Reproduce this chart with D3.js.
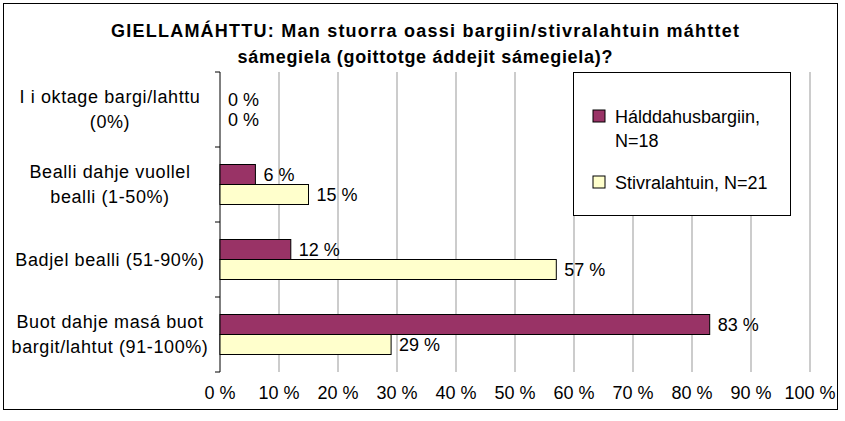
<!DOCTYPE html>
<html>
<head>
<script src="https://d3js.org/d3.v7.min.js"></script>
<style>body{margin:0;background:#fff}</style>
</head>
<body>
<div id="chart"></div>
<script>
var categories = [["I i oktage bargi/lahttu", "(0%)"], ["Bealli dahje vuollel", "bealli (1-50%)"], ["Badjel bealli (51-90%)"], ["Buot dahje masá buot", "bargit/lahtut (91-100%)"]];
var seriesNames = ["Hálddahusbargiin, N=18", "Stivralahtuin, N=21"];
var halddahus = [0, 6, 12, 83];
var stivra = [0, 15, 57, 29];
var ticks = [0, 10, 20, 30, 40, 50, 60, 70, 80, 90, 100];
var colors = ["#993366", "#FFFFCC"];

var W = 845, H = 421;
var svg = d3.select("#chart").append("svg").attr("width", W).attr("height", H)
    .style("font-family", "Liberation Sans, Arial, sans-serif");
svg.append("rect").attr("x", 3.5).attr("y", 3.5).attr("width", 834).attr("height", 406)
    .attr("fill", "#fff").attr("stroke", "#000");

// title
svg.append("text").attr("x", 425).attr("y", 37).attr("text-anchor", "middle").attr("textLength", 628)
    .attr("font-weight", "bold").attr("font-size", 18).text("GIELLAMÁHTTU: Man stuorra oassi bargiin/stivralahtuin máhttet");
svg.append("text").attr("x", 425).attr("y", 63).attr("text-anchor", "middle").attr("textLength", 375)
    .attr("font-weight", "bold").attr("font-size", 18).text("sámegiela (goittotge áddejit sámegiela)?");

var x = d3.scaleLinear().domain([0, 100]).range([220, 810]);
var y = d3.scaleBand().domain(d3.range(categories.length)).range([72, 372]);

// grid
svg.selectAll(".grid").data(ticks.slice(1)).enter().append("line")
    .attr("x1", d => x(d)).attr("x2", d => x(d)).attr("y1", 72).attr("y2", 372)
    .attr("stroke", "#999");
svg.append("line").attr("x1", x(0)).attr("x2", x(0)).attr("y1", 72).attr("y2", 372).attr("stroke", "#000");
svg.selectAll(".yt").data(d3.range(categories.length + 1)).enter().append("line")
    .attr("x1", x(0) - 5).attr("x2", x(0)).attr("y1", d => 72 + d * y.step()).attr("y2", d => 72 + d * y.step()).attr("stroke", "#000");

// x tick labels
svg.selectAll(".xl").data(ticks).enter().append("text")
    .attr("x", d => x(d)).attr("y", 399).attr("text-anchor", "middle").attr("font-size", 18)
    .text(d => d + " %");

// category labels
categories.forEach(function (lines, i) {
    var cy = y(i) + y.bandwidth() / 2;
    var t = svg.append("text").attr("text-anchor", "middle").attr("font-size", 18).attr("letter-spacing", 0.6);
    lines.forEach(function (l, j) {
        t.append("tspan").attr("x", 110).attr("y", cy + 6 + (j - (lines.length - 1) / 2) * 25).text(l);
    });
});

var bh = 20;
[halddahus, stivra].forEach(function (vals, s) {
    vals.forEach(function (v, i) {
        var cy = y(i) + y.bandwidth() / 2;
        var top = s === 0 ? cy - bh : cy;
        if (v > 0) svg.append("rect").attr("x", x(0)).attr("y", top).attr("width", x(v) - x(0)).attr("height", bh)
            .attr("fill", colors[s]).attr("stroke", "#000");
        svg.append("text").attr("x", x(v) + 8).attr("y", top + 16).attr("font-size", 18).text(v + " %");
    });
});

// legend
svg.append("rect").attr("x", 573.5).attr("y", 72.5).attr("width", 217).attr("height", 143)
    .attr("fill", "#fff").attr("stroke", "#000");
[["Hálddahusbargiin,", "N=18"], ["Stivralahtuin, N=21"]].forEach(function (lines, s) {
    var ly = s === 0 ? 117 : 183;
    svg.append("rect").attr("x", 593).attr("y", ly - 7).attr("width", 12).attr("height", 12)
        .attr("fill", colors[s]).attr("stroke", "#000");
    lines.forEach(function (l, j) {
        svg.append("text").attr("x", 615).attr("y", ly + 6 + j * 24).attr("font-size", 18).text(l);
    });
});
</script>
</body>
</html>
